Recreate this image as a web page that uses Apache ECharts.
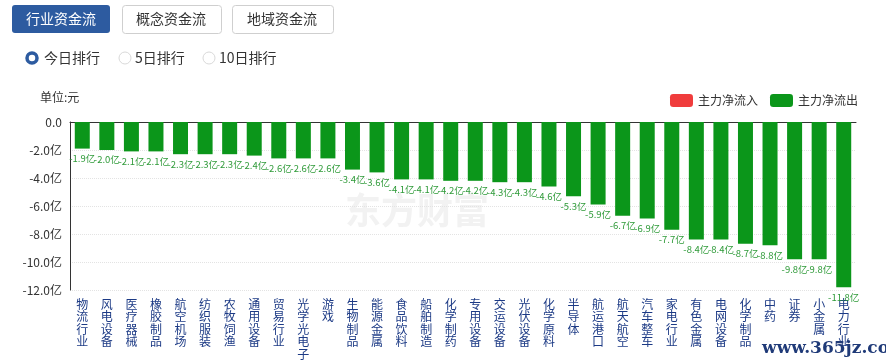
<!DOCTYPE html>
<html><head><meta charset="utf-8">
<script src="https://cdn.jsdelivr.net/npm/echarts@6/dist/echarts.min.js"></script>
<style>html,body{margin:0;padding:0;background:#fff}#c{width:886px;height:363px}</style>
</head><body><div id="c"></div>
<script>
const categories = ['物流行业','风电设备','医疗器械','橡胶制品','航空机场','纺织服装','农牧饲渔','通用设备','贸易行业','光学光电子','游戏','生物制品','能源金属','食品饮料','船舶制造','化学制药','专用设备','交运设备','光伏设备','化学原料','半导体','航运港口','航天航空','汽车整车','家电行业','有色金属','电网设备','化学制品','中药','证券','小金属','电力行业'];
const outflow = [-1.9,-2.0,-2.1,-2.1,-2.3,-2.3,-2.3,-2.4,-2.6,-2.6,-2.6,-3.4,-3.6,-4.1,-4.1,-4.2,-4.2,-4.3,-4.3,-4.6,-5.3,-5.9,-6.7,-6.9,-7.7,-8.4,-8.4,-8.7,-8.8,-9.8,-9.8,-11.8];
const inflow = [];
const tabs = ['行业资金流','概念资金流','地域资金流'];
const radios = ['今日排行','5日排行','10日排行'];
const FONT = '"Noto Sans CJK SC", "Microsoft YaHei", sans-serif';

const chart = echarts.init(document.getElementById('c'));
const blue = '#2d5ba0';
const graphics = [
  {type:'rect', left:12, top:5, shape:{width:98,height:28,r:3}, style:{fill:blue}},
  {type:'text', x:61, y:19, style:{text:tabs[0], fill:'#fff', font:'14px '+FONT, textAlign:'center', textVerticalAlign:'middle'}},
  {type:'rect', left:122, top:5, shape:{width:99,height:28,r:3}, style:{fill:'#fff', stroke:'#cfcfcf', lineWidth:1}},
  {type:'text', x:171, y:19, style:{text:tabs[1], fill:'#333', font:'14px '+FONT, textAlign:'center', textVerticalAlign:'middle'}},
  {type:'rect', left:232, top:5, shape:{width:101,height:28,r:3}, style:{fill:'#fff', stroke:'#cfcfcf', lineWidth:1}},
  {type:'text', x:282, y:19, style:{text:tabs[2], fill:'#333', font:'14px '+FONT, textAlign:'center', textVerticalAlign:'middle'}},
  {type:'circle', shape:{cx:32, cy:58, r:5}, style:{fill:'#fff', stroke:blue, lineWidth:3.5}},
  {type:'text', x:44, y:58, style:{text:radios[0], fill:'#333', font:'14px '+FONT, textVerticalAlign:'middle'}},
  {type:'circle', shape:{cx:125, cy:58, r:6}, style:{fill:'#fff', stroke:'#d8d8d8', lineWidth:1}},
  {type:'text', x:135, y:58, style:{text:radios[1], fill:'#333', font:'14px '+FONT, textVerticalAlign:'middle'}},
  {type:'circle', shape:{cx:209, cy:58, r:6}, style:{fill:'#fff', stroke:'#d8d8d8', lineWidth:1}},
  {type:'text', x:219, y:58, style:{text:radios[2], fill:'#333', font:'14px '+FONT, textVerticalAlign:'middle'}},
  {type:'text', x:40, y:97, style:{text:'单位:元', fill:'#333', font:'12px '+FONT, textVerticalAlign:'middle'}},
  {type:'text', x:345, y:210, z:-1, style:{text:'东方财富', fill:'#f2f2f2', font:'bold 36px '+FONT, textVerticalAlign:'middle'}},
  {type:'text', x:762, y:349, z:100, style:{text:'www.365jz.com', fill:'#1f3a78', font:'bold 17px "DejaVu Serif", serif', textVerticalAlign:'middle'}}
];

chart.setOption({
  animation:false,
  textStyle:{fontFamily:FONT},
  graphic:graphics,
  legend:{
    right:23, top:89, itemWidth:23, itemHeight:13, itemGap:12,
    icon:'roundRect',
    textStyle:{fontSize:12, color:'#333'},
    data:['主力净流入','主力净流出']
  },
  grid:{left:70, top:122, right:30, bottom:73, containLabel:false, outerBoundsMode:'none'},
  xAxis:[{
    type:'category', data:categories, position:'bottom',
    axisLine:{show:false}, axisTick:{show:false},
    axisLabel:{interval:0, color:'#1c3a85', fontSize:12, lineHeight:12.5, margin:8,
      formatter:v=>v.split('').join('\n')}
  },{
    type:'category', data:categories, position:'top',
    axisLine:{show:true, lineStyle:{color:'#333', width:1}}, axisTick:{show:false}, axisLabel:{show:false}
  }],
  yAxis:{
    type:'value', min:-12, max:0, interval:2,
    axisLine:{show:true, lineStyle:{color:'#333'}}, axisTick:{show:false},
    axisLabel:{color:'#333', fontSize:12, margin:8, formatter:v=>v===0?'0.0':v.toFixed(1)+'亿'},
    splitLine:{show:true, lineStyle:{color:'#e3e3e3', type:'dotted'}}
  },
  series:[{
    name:'主力净流入', type:'bar', stack:'a', data:inflow, itemStyle:{color:'#f03c3c'}
  },{
    name:'主力净流出', type:'bar', stack:'a', data:outflow, barWidth:15,
    itemStyle:{color:'#0b961a'},
    label:{show:true, position:'bottom', distance:5, color:'#2e9a38', fontSize:9.5,
      formatter:p=>p.value.toFixed(1)+'亿'}
  }]
});
</script></body></html>
